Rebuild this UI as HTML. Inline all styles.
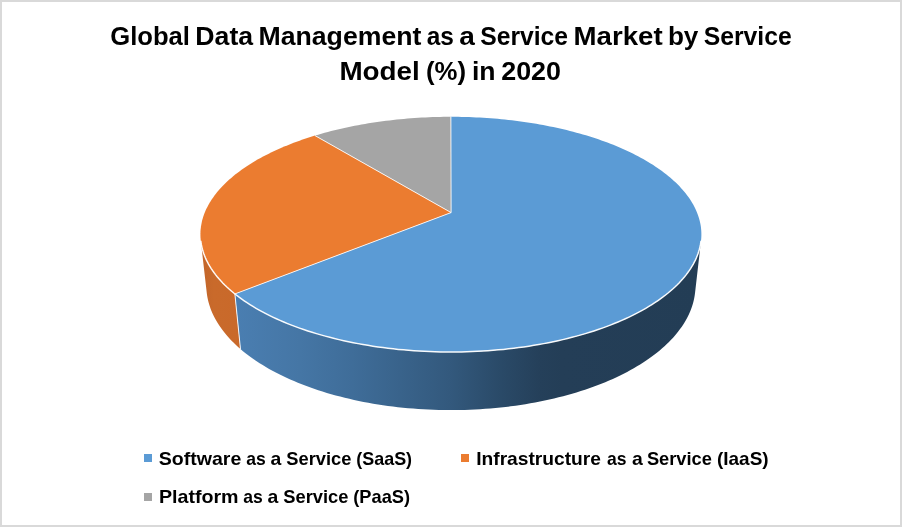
<!DOCTYPE html>
<html lang="en"><head><meta charset="utf-8"><title>Global Data Management as a Service Market by Service Model (%) in 2020</title>
<style>html,body{margin:0;padding:0;background:#fff}body{width:902px;height:527px;overflow:hidden}svg{display:block}</style>
</head><body>
<svg width="902" height="527" viewBox="0 0 902 527" font-family="'Liberation Sans', sans-serif" font-weight="bold" fill="#000">
<defs>
<linearGradient id="gb" gradientUnits="userSpaceOnUse" x1="236" y1="0" x2="702" y2="0">
<stop offset="0" stop-color="#4a7eb1"/>
<stop offset="0.137" stop-color="#4576a5"/>
<stop offset="0.249" stop-color="#3f6d99"/>
<stop offset="0.352" stop-color="#39638b"/>
<stop offset="0.459" stop-color="#33597d"/>
<stop offset="0.567" stop-color="#2a4a68"/>
<stop offset="0.652" stop-color="#25405a"/>
<stop offset="0.70" stop-color="#243e57"/>
<stop offset="1" stop-color="#233d55"/>
</linearGradient>
<linearGradient id="go" gradientUnits="userSpaceOnUse" x1="200" y1="0" x2="240" y2="0">
<stop offset="0" stop-color="#c1652a"/>
<stop offset="0.35" stop-color="#c96a2b"/>
<stop offset="1" stop-color="#c9692a"/>
</linearGradient>
</defs>
<rect x="1" y="1" width="900" height="525" fill="#fff" stroke="#d9d9d9" stroke-width="2"/>
<path d="M200.78 240.73 L201.07 242.88 L201.44 245.04 L201.90 247.19 L202.45 249.36 L203.08 251.52 L203.80 253.68 L204.62 255.85 L205.52 258.02 L206.51 260.18 L207.59 262.34 L208.76 264.50 L210.02 266.66 L211.38 268.81 L212.82 270.96 L214.36 273.10 L216.00 275.23 L217.72 277.35 L219.54 279.47 L221.45 281.57 L223.45 283.66 L225.55 285.75 L227.74 287.81 L230.03 289.87 L232.40 291.90 L234.88 293.93 L240.48 349.06 L238.06 346.93 L235.73 344.78 L233.48 342.62 L231.33 340.44 L229.27 338.25 L227.30 336.04 L225.42 333.82 L223.63 331.59 L221.93 329.35 L220.32 327.10 L218.80 324.84 L217.37 322.58 L216.03 320.31 L214.78 318.03 L213.62 315.75 L212.54 313.47 L211.56 311.18 L210.66 308.89 L209.85 306.60 L209.12 304.32 L208.48 302.03 L207.93 299.74 L207.46 297.46 L207.07 295.18 L206.77 292.91 Z" fill="url(#go)"/>
<path d="M234.88 293.93 L237.40 295.90 L240.02 297.86 L242.73 299.80 L245.52 301.72 L248.41 303.62 L251.38 305.50 L254.44 307.35 L257.58 309.18 L260.82 310.98 L264.13 312.76 L267.53 314.51 L271.02 316.24 L274.58 317.93 L278.23 319.59 L281.96 321.22 L285.76 322.82 L289.65 324.39 L293.61 325.92 L297.64 327.42 L301.75 328.88 L305.93 330.30 L310.18 331.68 L314.49 333.03 L318.88 334.34 L323.33 335.60 L327.84 336.83 L332.41 338.01 L337.04 339.15 L341.73 340.24 L346.47 341.29 L351.27 342.29 L356.11 343.25 L361.01 344.16 L365.95 345.03 L370.93 345.84 L375.96 346.61 L381.02 347.33 L386.12 348.00 L391.25 348.61 L396.41 349.18 L401.60 349.70 L406.82 350.16 L412.06 350.57 L417.32 350.94 L422.60 351.24 L427.89 351.50 L433.19 351.70 L438.51 351.85 L443.83 351.95 L449.15 351.99 L454.48 351.98 L459.80 351.92 L465.12 351.81 L470.43 351.64 L475.73 351.42 L481.02 351.14 L486.29 350.82 L491.54 350.44 L496.77 350.01 L501.98 349.53 L507.16 348.99 L512.32 348.41 L517.44 347.77 L522.52 347.09 L527.57 346.35 L532.58 345.57 L537.55 344.74 L542.48 343.86 L547.36 342.93 L552.18 341.95 L556.96 340.93 L561.69 339.87 L566.36 338.76 L570.97 337.61 L575.52 336.41 L580.01 335.17 L584.44 333.89 L588.80 332.57 L593.09 331.21 L597.32 329.81 L601.47 328.38 L605.55 326.91 L609.56 325.40 L613.49 323.85 L617.35 322.28 L621.13 320.67 L624.83 319.02 L628.45 317.35 L631.99 315.65 L635.44 313.92 L638.82 312.16 L642.10 310.37 L645.31 308.55 L648.42 306.72 L651.45 304.86 L654.39 302.97 L657.25 301.06 L660.01 299.14 L662.69 297.19 L665.28 295.23 L667.77 293.24 L670.18 291.24 L672.49 289.23 L674.72 287.20 L676.85 285.16 L678.90 283.10 L680.85 281.03 L682.71 278.95 L684.49 276.86 L686.17 274.77 L687.76 272.66 L689.26 270.55 L690.67 268.43 L691.99 266.31 L693.22 264.18 L694.36 262.05 L695.42 259.92 L696.39 257.78 L697.26 255.64 L698.06 253.51 L698.76 251.37 L699.38 249.24 L699.92 247.11 L700.37 244.98 L700.74 242.85 L701.02 240.73 L695.03 292.91 L694.73 295.15 L694.35 297.40 L693.89 299.65 L693.35 301.90 L692.73 304.16 L692.02 306.42 L691.22 308.67 L690.35 310.93 L689.38 313.19 L688.34 315.44 L687.20 317.69 L685.98 319.94 L684.67 322.18 L683.28 324.41 L681.80 326.64 L680.23 328.86 L678.57 331.07 L676.83 333.28 L674.99 335.47 L673.07 337.65 L671.06 339.82 L668.97 341.97 L666.78 344.11 L664.51 346.23 L662.15 348.34 L659.70 350.43 L657.17 352.50 L654.55 354.55 L651.84 356.58 L649.04 358.58 L646.17 360.57 L643.20 362.53 L640.15 364.46 L637.02 366.37 L633.81 368.25 L630.52 370.10 L627.14 371.92 L623.69 373.71 L620.15 375.47 L616.54 377.20 L612.86 378.89 L609.09 380.55 L605.26 382.17 L601.35 383.76 L597.37 385.30 L593.32 386.81 L589.20 388.28 L585.02 389.71 L580.77 391.09 L576.46 392.44 L572.09 393.74 L567.66 394.99 L563.17 396.20 L558.62 397.37 L554.02 398.49 L549.37 399.56 L544.68 400.58 L539.93 401.55 L535.14 402.48 L530.31 403.35 L525.43 404.17 L520.52 404.94 L515.58 405.66 L510.60 406.33 L505.59 406.94 L500.55 407.50 L495.49 408.01 L490.40 408.46 L485.30 408.86 L480.17 409.20 L475.03 409.49 L469.88 409.72 L464.72 409.89 L459.55 410.02 L454.38 410.08 L449.20 410.09 L444.03 410.04 L438.86 409.94 L433.69 409.79 L428.54 409.57 L423.39 409.30 L418.26 408.98 L413.15 408.60 L408.06 408.17 L402.98 407.68 L397.94 407.14 L392.92 406.55 L387.93 405.90 L382.97 405.20 L378.05 404.44 L373.16 403.64 L368.31 402.78 L363.51 401.88 L358.75 400.92 L354.03 399.91 L349.37 398.86 L344.75 397.76 L340.19 396.61 L335.68 395.42 L331.23 394.17 L326.84 392.89 L322.50 391.56 L318.23 390.19 L314.03 388.78 L309.89 387.32 L305.81 385.83 L301.81 384.29 L297.88 382.72 L294.02 381.11 L290.23 379.46 L286.51 377.78 L282.88 376.07 L279.32 374.32 L275.84 372.54 L272.43 370.73 L269.11 368.89 L265.87 367.02 L262.71 365.12 L259.63 363.19 L256.64 361.24 L253.73 359.27 L250.91 357.27 L248.18 355.25 L245.52 353.20 L242.96 351.14 L240.48 349.06 Z" fill="url(#gb)"/>
<path d="M234.88 293.93 L240.48 349.06" stroke="#fff" stroke-width="1" stroke-opacity="0.9" fill="none"/>
<path d="M451.10 212.60 L450.90 116.80 L454.51 116.82 L458.13 116.85 L461.74 116.91 L465.35 117.00 L468.96 117.11 L472.56 117.24 L476.16 117.40 L479.76 117.59 L483.35 117.79 L486.94 118.03 L490.52 118.28 L494.10 118.57 L497.67 118.87 L501.23 119.20 L504.78 119.56 L508.32 119.94 L511.86 120.34 L515.38 120.77 L518.90 121.22 L522.40 121.70 L525.89 122.20 L529.37 122.72 L532.84 123.27 L536.29 123.85 L539.73 124.45 L543.15 125.07 L546.56 125.72 L549.95 126.39 L553.32 127.08 L556.68 127.80 L560.02 128.55 L563.34 129.32 L566.64 130.11 L569.92 130.93 L573.18 131.77 L576.41 132.63 L579.63 133.52 L582.82 134.43 L585.99 135.37 L589.13 136.33 L592.25 137.32 L595.34 138.32 L598.41 139.36 L601.45 140.41 L604.46 141.49 L607.44 142.60 L610.39 143.72 L613.31 144.87 L616.20 146.05 L619.06 147.24 L621.89 148.46 L624.68 149.71 L627.43 150.97 L630.16 152.26 L632.84 153.57 L635.49 154.91 L638.10 156.26 L640.67 157.64 L643.20 159.04 L645.69 160.47 L648.14 161.91 L650.55 163.38 L652.91 164.87 L655.23 166.38 L657.51 167.91 L659.74 169.46 L661.92 171.04 L664.05 172.63 L666.14 174.25 L668.17 175.88 L670.16 177.54 L672.09 179.22 L673.97 180.91 L675.80 182.62 L677.57 184.36 L679.29 186.11 L680.95 187.88 L682.56 189.67 L684.10 191.48 L685.59 193.30 L687.02 195.14 L688.38 197.00 L689.68 198.87 L690.92 200.77 L692.10 202.67 L693.21 204.59 L694.25 206.53 L695.23 208.48 L696.14 210.45 L696.97 212.43 L697.74 214.42 L698.44 216.42 L699.07 218.44 L699.62 220.47 L700.10 222.51 L700.51 224.56 L700.84 226.62 L701.09 228.69 L701.27 230.76 L701.36 232.85 L701.38 234.95 L701.32 237.05 L701.18 239.15 L700.96 241.27 L700.65 243.38 L700.27 245.51 L699.80 247.63 L699.24 249.76 L698.60 251.89 L697.87 254.02 L697.06 256.15 L696.16 258.29 L695.18 260.42 L694.11 262.55 L692.94 264.67 L691.69 266.79 L690.36 268.91 L688.93 271.02 L687.41 273.13 L685.80 275.23 L684.11 277.32 L682.32 279.40 L680.44 281.48 L678.47 283.54 L676.41 285.59 L674.26 287.62 L672.02 289.65 L669.69 291.65 L667.27 293.65 L664.76 295.62 L662.16 297.58 L659.48 299.52 L656.70 301.44 L653.83 303.34 L650.88 305.21 L647.84 307.07 L644.72 308.89 L641.50 310.70 L638.21 312.48 L634.83 314.23 L631.36 315.95 L627.82 317.65 L624.19 319.31 L620.49 320.95 L616.70 322.55 L612.84 324.12 L608.90 325.65 L604.89 327.15 L600.80 328.61 L596.64 330.04 L592.41 331.43 L588.12 332.78 L583.76 334.09 L579.33 335.36 L574.84 336.59 L570.29 337.78 L565.68 338.92 L561.01 340.03 L556.29 341.08 L551.51 342.09 L546.68 343.06 L541.81 343.98 L536.89 344.85 L531.92 345.67 L526.92 346.45 L521.87 347.18 L516.79 347.85 L511.68 348.48 L506.53 349.06 L501.36 349.59 L496.16 350.06 L490.93 350.49 L485.69 350.86 L480.42 351.18 L475.15 351.44 L469.85 351.66 L464.55 351.82 L459.24 351.93 L453.93 351.99 L448.62 351.99 L443.31 351.94 L438.00 351.84 L432.69 351.69 L427.40 351.48 L422.12 351.22 L416.85 350.91 L411.61 350.54 L406.38 350.12 L401.18 349.66 L396.00 349.14 L390.85 348.57 L385.73 347.95 L380.64 347.28 L375.59 346.56 L370.58 345.79 L365.61 344.97 L360.68 344.10 L355.80 343.19 L350.97 342.23 L346.19 341.23 L341.46 340.18 L336.78 339.08 L332.16 337.94 L327.60 336.76 L323.10 335.54 L318.67 334.27 L314.29 332.97 L309.99 331.62 L305.75 330.24 L301.58 328.82 L297.49 327.36 L293.46 325.87 L289.51 324.34 L285.64 322.77 L281.84 321.17 L278.13 319.55 L274.49 317.89 L270.93 316.19 L267.46 314.47 L264.06 312.73 L260.76 310.95 L257.53 309.15 L254.39 307.33 L251.34 305.47 L248.38 303.60 L245.50 301.71 L242.71 299.79 L240.01 297.85 L237.40 295.90 L234.88 293.93 Z" fill="#5b9bd5"/>
<path d="M451.10 212.60 L315.00 135.61 L311.87 136.58 L308.76 137.57 L305.68 138.58 L302.62 139.62 L299.60 140.68 L296.60 141.76 L293.63 142.87 L290.69 144.00 L287.78 145.16 L284.90 146.34 L282.05 147.54 L279.24 148.76 L276.46 150.01 L273.71 151.28 L271.01 152.57 L268.33 153.88 L265.70 155.22 L263.10 156.58 L260.54 157.97 L258.02 159.37 L255.54 160.80 L253.11 162.25 L250.71 163.72 L248.36 165.21 L246.05 166.72 L243.79 168.26 L241.58 169.81 L239.41 171.39 L237.29 172.99 L235.21 174.60 L233.19 176.24 L231.22 177.90 L229.30 179.58 L227.43 181.27 L225.62 182.99 L223.86 184.72 L222.16 186.48 L220.51 188.25 L218.92 190.04 L217.39 191.85 L215.91 193.67 L214.50 195.52 L213.15 197.38 L211.86 199.25 L210.64 201.14 L209.48 203.05 L208.38 204.97 L207.35 206.91 L206.39 208.86 L205.50 210.83 L204.67 212.81 L203.92 214.80 L203.23 216.80 L202.62 218.82 L202.08 220.85 L201.62 222.88 L201.23 224.93 L200.91 226.99 L200.67 229.06 L200.51 231.14 L200.43 233.22 L200.42 235.32 L200.50 237.42 L200.65 239.52 L200.89 241.63 L201.21 243.75 L201.61 245.87 L202.09 247.99 L202.66 250.12 L203.31 252.25 L204.05 254.37 L204.88 256.50 L205.79 258.63 L206.79 260.76 L207.87 262.89 L209.05 265.01 L210.31 267.13 L211.66 269.24 L213.10 271.35 L214.63 273.45 L216.25 275.55 L217.96 277.64 L219.76 279.72 L221.65 281.78 L223.63 283.84 L225.70 285.89 L227.86 287.92 L230.11 289.94 L232.45 291.94 L234.88 293.93 Z" fill="#eb7c30"/>
<path d="M451.10 212.60 L450.90 116.80 L447.26 116.82 L443.63 116.85 L439.99 116.91 L436.36 117.00 L432.73 117.11 L429.10 117.25 L425.47 117.41 L421.85 117.60 L418.23 117.81 L414.62 118.04 L411.02 118.30 L407.42 118.59 L403.83 118.90 L400.25 119.23 L396.67 119.59 L393.10 119.98 L389.55 120.39 L386.00 120.82 L382.46 121.28 L378.94 121.76 L375.43 122.27 L371.93 122.80 L368.44 123.36 L364.97 123.94 L361.51 124.55 L358.07 125.18 L354.64 125.83 L351.23 126.51 L347.84 127.22 L344.46 127.95 L341.10 128.70 L337.77 129.48 L334.45 130.28 L331.15 131.11 L327.88 131.96 L324.62 132.84 L321.39 133.74 L318.19 134.67 L315.00 135.61 Z" fill="#a5a5a5"/>
<path d="M451.10 212.60 L450.90 116.80" stroke="#fff" stroke-width="1" stroke-opacity="0.85" fill="none"/>
<path d="M451.10 212.60 L315.00 135.61" stroke="#fff" stroke-width="1" stroke-opacity="0.85" fill="none"/>
<path d="M451.10 212.60 L234.88 293.93" stroke="#fff" stroke-width="1" stroke-opacity="0.85" fill="none"/>
<path d="M200.78 240.73 L201.06 242.84 L201.43 244.96 L201.87 247.08 L202.41 249.20 L203.02 251.33 L203.72 253.45 L204.51 255.58 L205.38 257.71 L206.34 259.83 L207.39 261.96 L208.52 264.08 L209.74 266.20 L211.06 268.31 L212.45 270.42 L213.94 272.53 L215.52 274.62 L217.19 276.71 L218.95 278.79 L220.79 280.86 L222.73 282.92 L224.76 284.97 L226.87 287.00 L229.08 289.03 L231.38 291.04 L233.76 293.03 L236.24 295.00 L238.80 296.96 L241.46 298.90 L244.20 300.82 L247.03 302.73 L249.95 304.60 L252.95 306.46 L256.04 308.29 L259.22 310.10 L262.48 311.89 L265.83 313.64 L269.25 315.37 L272.76 317.07 L276.35 318.74 L280.02 320.38 L283.77 321.99 L287.60 323.57 L291.50 325.11 L295.48 326.62 L299.53 328.10 L303.65 329.53 L307.85 330.93 L312.11 332.29 L316.44 333.62 L320.83 334.90 L325.29 336.14 L329.81 337.34 L334.38 338.50 L339.02 339.61 L343.71 340.69 L348.46 341.71 L353.25 342.69 L358.10 343.63 L362.99 344.52 L367.92 345.36 L372.90 346.15 L377.92 346.89 L382.97 347.59 L388.06 348.24 L393.19 348.83 L398.34 349.38 L403.52 349.87 L408.72 350.32 L413.94 350.71 L419.19 351.05 L424.45 351.34 L429.72 351.58 L435.01 351.76 L440.30 351.89 L445.60 351.97 L450.90 352.00 L456.20 351.97 L461.50 351.89 L466.79 351.76 L472.08 351.58 L477.35 351.34 L482.61 351.05 L487.86 350.71 L493.08 350.32 L498.28 349.87 L503.46 349.38 L508.61 348.83 L513.74 348.24 L518.83 347.59 L523.88 346.89 L528.90 346.15 L533.88 345.36 L538.81 344.52 L543.70 343.63 L548.55 342.69 L553.34 341.71 L558.09 340.69 L562.78 339.61 L567.42 338.50 L571.99 337.34 L576.51 336.14 L580.97 334.90 L585.36 333.62 L589.69 332.29 L593.95 330.93 L598.15 329.53 L602.27 328.10 L606.32 326.62 L610.30 325.11 L614.20 323.57 L618.03 321.99 L621.78 320.38 L625.45 318.74 L629.04 317.07 L632.55 315.37 L635.97 313.64 L639.32 311.89 L642.58 310.10 L645.76 308.29 L648.85 306.46 L651.85 304.60 L654.77 302.73 L657.60 300.82 L660.34 298.90 L663.00 296.96 L665.56 295.00 L668.04 293.03 L670.42 291.04 L672.72 289.03 L674.93 287.00 L677.04 284.97 L679.07 282.92 L681.01 280.86 L682.85 278.79 L684.61 276.71 L686.28 274.62 L687.86 272.53 L689.35 270.42 L690.74 268.31 L692.06 266.20 L693.28 264.08 L694.41 261.96 L695.46 259.83 L696.42 257.71 L697.29 255.58 L698.08 253.45 L698.78 251.33 L699.39 249.20 L699.93 247.08 L700.37 244.96 L700.74 242.84 L701.02 240.73" stroke="#fff" stroke-width="1.5" stroke-opacity="0.95" fill="none"/>
<text y="44.8" font-size="25.00"><tspan x="110.3" textLength="79.7" lengthAdjust="spacingAndGlyphs">Global</tspan> <tspan x="195.3" textLength="57.8" lengthAdjust="spacingAndGlyphs">Data</tspan> <tspan x="258.5" textLength="162.9" lengthAdjust="spacingAndGlyphs">Management</tspan> <tspan x="426.7" textLength="27.2" lengthAdjust="spacingAndGlyphs">as</tspan> <tspan x="459.3" textLength="15.6" lengthAdjust="spacingAndGlyphs">a</tspan> <tspan x="480.2" textLength="87.9" lengthAdjust="spacingAndGlyphs">Service</tspan> <tspan x="573.5" textLength="89.1" lengthAdjust="spacingAndGlyphs">Market</tspan> <tspan x="667.9" textLength="30.5" lengthAdjust="spacingAndGlyphs">by</tspan> <tspan x="703.7" textLength="88.0" lengthAdjust="spacingAndGlyphs">Service</tspan></text>
<text y="79.8" font-size="25.00"><tspan x="339.4" textLength="80.4" lengthAdjust="spacingAndGlyphs">Model</tspan> <tspan x="426.0" textLength="40.1" lengthAdjust="spacingAndGlyphs">(%)</tspan> <tspan x="471.9" textLength="23.6" lengthAdjust="spacingAndGlyphs">in</tspan> <tspan x="501.2" textLength="59.8" lengthAdjust="spacingAndGlyphs">2020</tspan></text>
<rect x="144" y="454" width="8" height="8" fill="#5b9bd5"/>
<rect x="461" y="454" width="8" height="8" fill="#eb7c30"/>
<rect x="144" y="493" width="8" height="8" fill="#a5a5a5"/>
<text y="464.8" font-size="19.00"><tspan x="158.8" textLength="82.5" lengthAdjust="spacingAndGlyphs">Software</tspan> <tspan x="246.2" textLength="19.5" lengthAdjust="spacingAndGlyphs">as</tspan> <tspan x="270.6" textLength="10.8" lengthAdjust="spacingAndGlyphs">a</tspan> <tspan x="286.3" textLength="65.1" lengthAdjust="spacingAndGlyphs">Service</tspan> <tspan x="356.3" textLength="55.8" lengthAdjust="spacingAndGlyphs">(SaaS)</tspan></text>
<text y="464.8" font-size="19.00"><tspan x="476.2" textLength="124.8" lengthAdjust="spacingAndGlyphs">Infrastructure</tspan> <tspan x="606.9" textLength="19.5" lengthAdjust="spacingAndGlyphs">as</tspan> <tspan x="631.9" textLength="10.8" lengthAdjust="spacingAndGlyphs">a</tspan> <tspan x="646.9" textLength="65.0" lengthAdjust="spacingAndGlyphs">Service</tspan> <tspan x="717.0" textLength="51.6" lengthAdjust="spacingAndGlyphs">(IaaS)</tspan></text>
<text y="503.4" font-size="19.00"><tspan x="158.9" textLength="79.7" lengthAdjust="spacingAndGlyphs">Platform</tspan> <tspan x="243.2" textLength="19.5" lengthAdjust="spacingAndGlyphs">as</tspan> <tspan x="267.6" textLength="10.8" lengthAdjust="spacingAndGlyphs">a</tspan> <tspan x="283.3" textLength="65.1" lengthAdjust="spacingAndGlyphs">Service</tspan> <tspan x="353.3" textLength="56.7" lengthAdjust="spacingAndGlyphs">(PaaS)</tspan></text>
</svg>
</body></html>
